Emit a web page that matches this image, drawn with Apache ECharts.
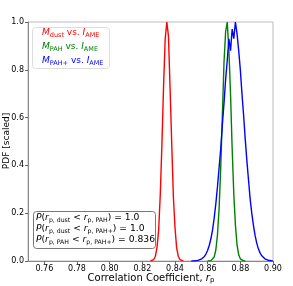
<!DOCTYPE html>
<html><head><meta charset="utf-8">
<script src="https://cdn.jsdelivr.net/npm/echarts@6/dist/echarts.min.js"></script>
<style>html,body{margin:0;padding:0;background:#fff}#c{width:293px;height:286px}</style>
</head><body><div id="c"></div>
<script>
// ---- data ----
const binWidth = 0.001;
const dustStart = 0.825;
const dustPdf = [0.0003,0.0015,0.006,0.02,0.058,0.13,0.28,0.49,0.73,0.93,1.0,0.94,0.72,0.49,0.27,0.14,0.055,0.02,0.006,0.0015,0.0003];
const pahStart = 0.860;
const pahPdf = [0.0001,0.0004,0.0016,0.0056,0.017,0.046,0.11,0.22,0.39,0.61,0.83,0.96,1.0,0.88,0.70,0.47,0.28,0.15,0.066,0.026,0.009,0.0027,0.0007,0.0002];
const pahpStart = 0.850;
const pahpPdf = [0.0002,0.0005,0.0009,0.0015,0.0027,0.0045,0.0075,0.012,0.019,0.03,0.045,0.066,0.094,0.13,0.18,0.24,0.31,0.39,0.47,0.57,0.66,0.76,0.84,0.93,0.88,0.97,0.93,1.0,0.95,0.88,0.80,0.70,0.61,0.51,0.42,0.34,0.26,0.2,0.15,0.108,0.076,0.052,0.035,0.023,0.015,0.0092,0.0056,0.0033,0.0019,0.0011,0.0006];
const xTicks = [0.76,0.78,0.80,0.82,0.84,0.86,0.88,0.90];
const yTicks = [0,0.2,0.4,0.6,0.8,1.0];

function toPairs(start, arr){ return arr.map((v,i)=>[+(start+i*binWidth).toFixed(4), v]); }

const font = 'DejaVu Sans';
const chart = echarts.init(document.getElementById('c'), null, {renderer:'canvas'});
function line(name, start, arr, color){
  return {name, type:'line', data:toPairs(start,arr), showSymbol:false, symbol:'none',
    lineStyle:{color, width:1.4}, itemStyle:{color}, animation:false};
}
const subStyle = (c)=>({fontFamily:font, fontSize:6.5, fill:c, color:c, verticalAlign:'bottom'});
const mainStyle = (c, it)=>({fontFamily:font, fontSize:9, fontStyle: it?'italic':'normal', color:c, fill:c, lineHeight:12});
function legendRich(c){
  return {mi:mainStyle(c,true), t:mainStyle(c,false), sub:subStyle(c)};
}
const aRich = {
  mi:{fontFamily:font, fontSize:9.2, fontStyle:'italic', color:'#000', lineHeight:11},
  t:{fontFamily:font, fontSize:9.2, color:'#000', lineHeight:11},
  sub:{fontFamily:font, fontSize:6.2, color:'#000', verticalAlign:'bottom'}
};
const option = {
  animation:false,
  grid:{left:28, right:20, top:22, bottom:25, show:true, borderColor:'#bbb', borderWidth:1, containLabel:false, outerBoundsMode:'none'},
  xAxis:{type:'value', min:0.75, max:0.90,
    axisLine:{show:true, lineStyle:{color:'#888', width:1}},
    axisTick:{show:true, length:3, lineStyle:{color:'#666'}, customValues:xTicks},
    axisLabel:{fontFamily:font, fontSize:8, color:'#000', margin:4, customValues:xTicks,
      formatter:(v)=>v.toFixed(2)},
    splitLine:{show:false}},
  yAxis:{type:'value', min:0, max:1, interval:0.2,
    axisLine:{show:true, lineStyle:{color:'#888', width:1}},
    axisTick:{show:true, length:3, lineStyle:{color:'#666'}},
    axisLabel:{fontFamily:font, fontSize:8, color:'#000', margin:4, formatter:(v)=>v.toFixed(1)},
    splitLine:{show:false}},
  series:[
    line('dust', dustStart, dustPdf, '#ff0000'),
    line('pah', pahStart, pahPdf, '#008000'),
    line('pahp', pahpStart, pahpPdf, '#0000ff')
  ],
  graphic:[
    {type:'text', x:7, y:141, rotation:Math.PI/2, z:11, style:{text:'PDF [scaled]', fontFamily:font, fontSize:9, fill:'#000', align:'center', verticalAlign:'middle'}},
    {type:'text', x:151, y:278, z:11, style:{text:'Correlation Coefficient, {i|r}{s|p}', align:'center', verticalAlign:'middle',
      fontFamily:font, fontSize:10, fill:'#000',
      rich:{i:{fontFamily:font, fontSize:10, fontStyle:'italic', fill:'#000', lineHeight:12}, s:{fontFamily:font, fontSize:7, fill:'#000', verticalAlign:'bottom'}}}},
    {type:'rect', shape:{x:32.5, y:27.5, width:77, height:41, r:3}, style:{fill:'rgba(255,255,255,0.8)', stroke:'#ddd', lineWidth:1}, z:10},
    {type:'text', x:42, y:27, z:11, style:{text:'{mi|M}{sub|dust}{t| vs. }{mi|I}{sub|AME}', rich:legendRich('#ff0000')}},
    {type:'text', x:42, y:41, z:11, style:{text:'{mi|M}{sub|PAH}{t| vs. }{mi|I}{sub|AME}', rich:legendRich('#008000')}},
    {type:'text', x:42, y:55, z:11, style:{text:'{mi|M}{sub|PAH+}{t| vs. }{mi|I}{sub|AME}', rich:legendRich('#0000ff')}},
    {type:'rect', shape:{x:33.5, y:211.5, width:122, height:37, r:3}, style:{fill:'#fff', stroke:'#777', lineWidth:1}, z:10},
    {type:'text', x:36, y:212.5, z:11, style:{text:'{mi|P}{t|(}{mi|r}{sub|p, dust}{t| < }{mi|r}{sub|p, PAH}{t|) = 1.0}', rich:aRich}},
    {type:'text', x:36, y:223.5, z:11, style:{text:'{mi|P}{t|(}{mi|r}{sub|p, dust}{t| < }{mi|r}{sub|p, PAH+}{t|) = 1.0}', rich:aRich}},
    {type:'text', x:36, y:234.5, z:11, style:{text:'{mi|P}{t|(}{mi|r}{sub|p, PAH}{t| < }{mi|r}{sub|p, PAH+}{t|) = 0.836}', rich:aRich}}
  ]
};
chart.setOption(option);
</script></body></html>
